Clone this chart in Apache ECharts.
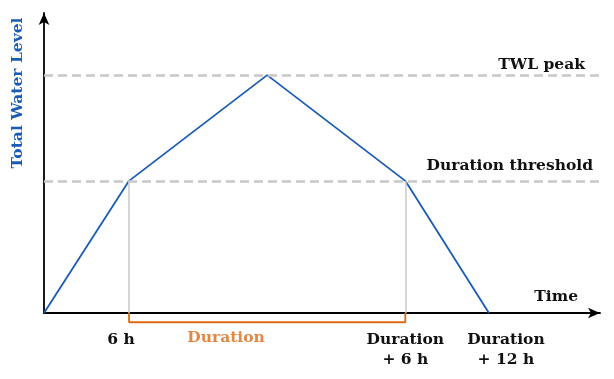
<!DOCTYPE html>
<html>
<head>
<meta charset="utf-8">
<script src="https://cdn.jsdelivr.net/npm/echarts@6/dist/echarts.min.js"></script>
<style>
  html, body { margin: 0; padding: 0; background: #fff; }
  #chart { width: 614px; height: 379px; }
</style>
</head>
<body>
<div id="chart"></div>
<script>
// profile of the storm: time (h, duration taken as ~19.5 h) and water level (threshold = 1)
const timeValues = [0, 6, 15.75, 25.5, 31.4];
const waterLevel = [0, 1, 1.8, 1, 0];
const peakLevel = 1.8;
const thresholdLevel = 1;
const durationStart = 6;
const durationEnd = 25.5;
const tickValues = [6, 25.5, 31.4];
const tickLabels = ['{l|6 h}', '{c|Duration}\n{c|+ 6 h}', '{r|Duration}\n{r|+ 12 h}'];

const font = 'DejaVu Serif';
const fontSize = 15.5;
const blue = '#1a5cb5';
const orange = '#dc6a15';
const grey = '#c8c8c8';

const chart = echarts.init(document.getElementById('chart'));

const labelText = {
    fontFamily: font,
    fontWeight: 'bold',
    fontSize: fontSize,
    color: '#111'
};

function tickLabel(v) {
    const i = tickValues.indexOf(v)
    return i >= 0 ? tickLabels[i] : ''
}

const tickLabelStyle = {
    hideOverlap: false,
    formatter: tickLabel,
    margin: 17,
    lineHeight: 20,
    ...labelText,
    rich: {
        l: { ...labelText, lineHeight: 20, padding: [0, 16, 0, 0] },
        c: { ...labelText, lineHeight: 20 },
        r: { ...labelText, lineHeight: 20, padding: [0, 0, 0, 34] }
    }
};

chart.setOption({
    animation: false,
    grid: {
        left: 44,
        right: 14,
        top: 13,
        bottom: 66,
        outerBoundsMode: 'none',
        containLabel: false
    },
    xAxis: [
        {
            type: 'value',
            min: 0,
            max: 39.24,
            splitLine: { show: false },
            axisTick: { show: false },
            axisLine: {
                onZero: true,
                symbol: ['none', 'arrow'],
                symbolSize: [8, 12],
                lineStyle: { color: '#000', width: 1.8 }
            },
            axisLabel: { ...tickLabelStyle, customValues: tickValues.slice(0, 2) },
            name: 'Time',
            nameLocation: 'end',
            nameGap: -22,
            nameTextStyle: {
                align: 'right',
                verticalAlign: 'bottom',
                padding: [0, 0, 8, 0],
                ...labelText
            }
        },
        {
            // second label row on the same scale, so the last label is not hidden by overlap
            type: 'value',
            position: 'bottom',
            min: 0,
            max: 39.24,
            splitLine: { show: false },
            axisTick: { show: false },
            axisLine: { show: false },
            axisLabel: { ...tickLabelStyle, customValues: tickValues.slice(2) }
        }
    ],
    yAxis: {
        type: 'value',
        min: 0,
        max: 2.27,
        splitLine: { show: false },
        axisTick: { show: false },
        axisLabel: { show: false },
        axisLine: {
            show: true,
            symbol: ['none', 'arrow'],
            symbolSize: [8, 12],
            lineStyle: { color: '#000', width: 1.8 }
        },
        name: 'Total Water Level',
        nameLocation: 'middle',
        nameGap: 18,
        nameTextStyle: {
            padding: [0, 0, 0, 140],
            ...labelText,
            color: blue
        }
    },
    series: [
        {
            // grey guides and orange duration bracket
            type: 'line',
            clip: false,
            symbol: 'none',
            z: 1,
            lineStyle: { color: orange, width: 1.8 },
            data: [
                [durationStart, 0],
                [durationStart, -0.07],
                [durationEnd, -0.07],
                [durationEnd, 0]
            ],
            markLine: {
                silent: true,
                symbol: 'none',
                lineStyle: { color: grey, width: 1.5, type: 'solid' },
                label: { show: false },
                data: [
                    [{ coord: [durationStart, 0] }, { coord: [durationStart, thresholdLevel] }],
                    [{ coord: [durationEnd, 0] }, { coord: [durationEnd, thresholdLevel] }]
                ]
            }
        },
        {
            type: 'scatter',
            clip: false,
            symbolSize: 0,
            z: 3,
            data: [[12.85, -0.19]],
            label: {
                show: true,
                position: 'inside',
                formatter: 'Duration',
                ...labelText,
                color: orange
            }
        },
        {
            type: 'line',
            symbol: 'none',
            z: 2,
            lineStyle: { color: blue, width: 1.8 },
            data: timeValues.map((t, i) => [t, waterLevel[i]]),
            markLine: {
                silent: true,
                symbol: 'none',
                lineStyle: { color: grey, width: 2.5, type: [9, 5] },
                label: {
                    show: true,
                    position: 'insideEndTop',
                    ...labelText
                },
                data: [
                    { yAxis: peakLevel, label: { formatter: 'TWL peak', distance: 2, padding: [0, 13, 0, 0] } },
                    { yAxis: thresholdLevel, label: { formatter: 'Duration threshold', distance: 7, padding: [0, 0, 0, 0] } }
                ]
            }
        }
    ]
})
</script>
</body>
</html>
